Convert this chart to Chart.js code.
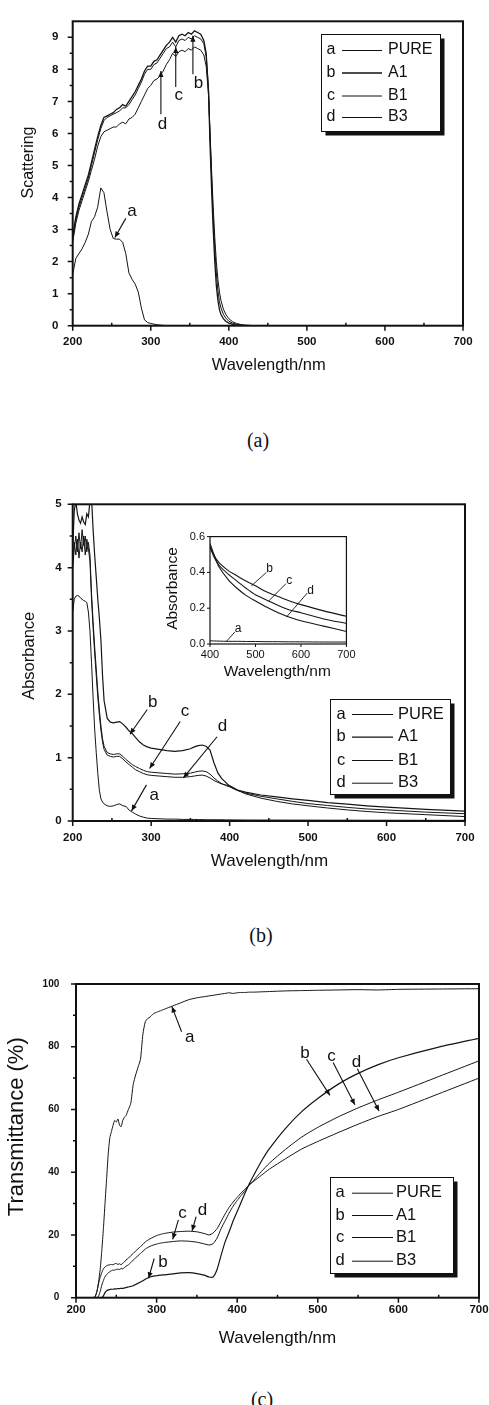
<!DOCTYPE html>
<html><head><meta charset="utf-8">
<script src="https://cdn.jsdelivr.net/npm/chart.js@4/dist/chart.umd.min.js"></script>
<style>
html,body{margin:0;padding:0;background:#fff;overflow:hidden;width:489px;height:1405px;position:relative}
canvas{position:absolute;left:0}
.cap{position:absolute;font-family:"Liberation Serif","DejaVu Serif",serif;font-size:20px;color:#111;transform:translate(-50%,-50%);white-space:nowrap}
</style></head><body>
<canvas id="cA" width="489" height="380" style="top:0px"></canvas>
<canvas id="cB" width="489" height="392" style="top:480px"></canvas>
<canvas id="cI" width="200" height="156" style="top:525px;left:160px"></canvas>
<canvas id="cC" width="500" height="390" style="top:960px"></canvas>
<div class="cap" style="left:258px;top:440px">(a)</div>
<div class="cap" style="left:261px;top:935px">(b)</div>
<div class="cap" style="left:262px;top:1399px">(c)</div>
<script>
// ---------- shared ----------
const seriesKeys = ['a','b','c','d'];
const seriesNames = ['PURE','A1','B1','B3'];
const wavelengthTicks = [200,300,400,500,600,700];

// ---------- (a) Scattering ----------
const wavelengthA = [200,204,208,212,216,220,224,228,232,236,240,244,248,252,256,260,264,268,272,276,280,284,288,292,296,300,304,308,312,316,320,324,328,332,336,340,344,348,352,356,360,364,368,371,374,376,378,380,382,384,386,388,390,393,396,400,405,410,415,420,430,450,500,600,700];
const scatPURE = [1.6,2.1,2.25,2.4,2.6,2.85,3.25,3.4,3.7,4.3,4.15,3.55,3.0,2.72,2.7,2.7,2.6,2.25,1.65,1.45,1.3,1.05,0.55,0.18,0.1,0.07,0.05,0.03,0.02,0.01,0.005,0,0,0,0,0,0,0,0,0,0,0,0,0,0,0,0,0,0,0,0,0,0,0,0,0,0,0,0,0,0,0,0,0,0];
const scatA1 = [2.8,3.4,3.8,4.1,4.4,4.7,5.1,5.5,5.9,6.25,6.5,6.55,6.6,6.65,6.75,6.8,6.9,6.85,7.0,7.15,7.3,7.5,7.7,7.95,8.1,8.1,8.25,8.3,8.45,8.6,8.75,8.85,9.0,8.85,9.05,9.1,9.05,9.15,9.1,9.2,9.15,9.1,8.9,8.5,7.3,5.6,4.2,3.0,2.0,1.25,0.8,0.5,0.35,0.22,0.14,0.08,0.04,0.02,0.01,0.005,0,0,0,0,0];
const scatB1 = [2.7,3.3,3.7,4.0,4.3,4.6,5.0,5.4,5.8,6.15,6.4,6.5,6.55,6.6,6.65,6.7,6.8,6.8,6.9,7.05,7.2,7.4,7.6,7.85,8.0,8.0,8.15,8.2,8.35,8.5,8.65,8.7,8.85,8.7,8.9,8.95,8.9,9.0,8.95,9.05,9.0,8.95,8.8,8.4,7.4,5.9,4.6,3.4,2.4,1.65,1.1,0.75,0.55,0.36,0.24,0.14,0.08,0.045,0.025,0.012,0.003,0,0,0,0];
const scatB3 = [2.6,3.2,3.6,3.9,4.2,4.5,4.85,5.2,5.6,5.9,6.05,6.1,6.15,6.2,6.2,6.3,6.35,6.3,6.45,6.5,6.6,6.8,7.0,7.2,7.4,7.5,7.65,7.7,7.8,7.95,8.15,8.3,8.5,8.4,8.55,8.6,8.55,8.65,8.6,8.7,8.65,8.6,8.45,8.1,7.2,6.0,4.8,3.7,2.75,2.0,1.45,1.05,0.78,0.52,0.36,0.22,0.12,0.07,0.04,0.02,0.005,0,0,0,0];
const scatTicks = [0,1,2,3,4,5,6,7,8,9];
const notesA = [
  {t:'a', tx:276, ty:3.56, x1:268, y1:3.35, x2:254, y2:2.75},
  {t:'d', tx:315, ty:6.3, x1:313, y1:6.6, x2:313, y2:7.95},
  {t:'c', tx:336, ty:7.2, x1:332, y1:7.45, x2:332, y2:8.7},
  {t:'b', tx:361, ty:7.57, x1:354, y1:7.85, x2:354, y2:9.05}
];

// ---------- (b) Absorbance ----------
const wavelengthB = [200,202,204,206,208,210,212,214,216,218,220,222,224,226,228,230,232,234,236,238,240,244,248,252,256,260,264,268,272,276,280,285,290,295,300,310,320,330,340,350,355,360,365,370,375,380,385,390,395,400,410,420,440,460,480,500,525,550,575,600,650,700];
const absPURE = [3.3,3.5,3.55,3.56,3.55,3.52,3.5,3.48,3.47,3.45,3.3,3.0,2.5,1.95,1.45,1.08,0.75,0.48,0.35,0.3,0.27,0.24,0.23,0.24,0.26,0.27,0.24,0.23,0.17,0.14,0.11,0.08,0.06,0.045,0.04,0.035,0.03,0.03,0.025,0.025,0.025,0.022,0.022,0.02,0.02,0.02,0.02,0.02,0.018,0.018,0.017,0.016,0.015,0.015,0.014,0.014,0.013,0.013,0.012,0.012,0.011,0.011];
const absA1 = [4.3,4.9,5.05,4.85,4.75,4.7,4.8,4.72,4.68,4.85,4.8,5.05,5.1,4.6,4.2,3.85,3.5,3.2,2.85,2.3,1.9,1.62,1.56,1.55,1.56,1.57,1.53,1.48,1.42,1.38,1.32,1.25,1.2,1.17,1.15,1.13,1.11,1.1,1.11,1.14,1.17,1.19,1.2,1.18,1.12,0.92,0.76,0.67,0.61,0.55,0.49,0.455,0.41,0.38,0.35,0.325,0.29,0.265,0.24,0.22,0.185,0.155];
const absB1 = [4.0,4.3,4.5,4.25,4.55,4.3,4.6,4.35,4.5,4.25,4.4,4.2,3.6,3.15,2.75,2.4,2.05,1.75,1.5,1.3,1.18,1.08,1.06,1.05,1.06,1.06,1.02,0.97,0.93,0.89,0.86,0.83,0.8,0.78,0.77,0.76,0.75,0.74,0.745,0.755,0.77,0.785,0.79,0.78,0.74,0.68,0.63,0.59,0.56,0.54,0.48,0.44,0.39,0.35,0.31,0.275,0.245,0.215,0.19,0.175,0.14,0.115];
const absB3 = [4.1,4.4,4.2,4.45,4.15,4.4,4.25,4.5,4.2,4.45,4.3,4.1,3.5,3.05,2.65,2.3,1.95,1.67,1.43,1.25,1.13,1.04,1.02,1.01,1.02,1.02,0.98,0.93,0.89,0.85,0.81,0.78,0.75,0.73,0.72,0.71,0.70,0.69,0.69,0.70,0.71,0.72,0.725,0.71,0.68,0.64,0.61,0.585,0.57,0.56,0.49,0.43,0.36,0.31,0.27,0.24,0.205,0.175,0.15,0.13,0.10,0.07];
const absTicks = [0,1,2,3,4,5];
const notesB = [
  {t:'b', tx:302, ty:1.88, x1:295, y1:1.76, x2:273, y2:1.37},
  {t:'c', tx:343, ty:1.73, x1:337, y1:1.57, x2:298, y2:0.83},
  {t:'d', tx:391, ty:1.5, x1:384, y1:1.33, x2:341, y2:0.68},
  {t:'a', tx:304, ty:0.41, x1:294, y1:0.57, x2:275, y2:0.16}
];
// inset (b)
const insetWavelengthTicks = [400,500,600,700];
const insetAbsTicks = [0,0.2,0.4,0.6];
const notesInset = [
  {t:'b', tx:531, ty:0.42, x1:524, y1:0.40, x2:491, y2:0.325},
  {t:'c', tx:574, ty:0.355, x1:567, y1:0.337, x2:529, y2:0.24},
  {t:'d', tx:621, ty:0.30, x1:614, y1:0.285, x2:568, y2:0.15},
  {t:'a', tx:462, ty:0.087, x1:455, y1:0.068, x2:436, y2:0.014}
];

// ---------- (c) Transmittance ----------
const wavelengthC = [220,222,224,226,228,230,232,234,236,238,240,242,244,246,248,250,252,254,256,258,260,262,265,268,271,274,277,280,283,286,289,292,296,300,305,310,320,330,340,350,360,365,370,375,380,385,390,395,400,405,410,415,420,430,440,460,480,500,525,550,575,600,650,700];
const transPURE = [0,0,0.5,2,5,9,15,22,30,38,46,51,53,55,56.5,56,57,55,54.5,56.5,57.5,58,60,62,68,71,73.5,76,84,88,89,89.5,90.5,91,91.5,92,93,94,95,95.6,96,96.2,96.4,96.6,96.8,97,97.2,97,97.2,97.3,97.3,97.4,97.4,97.5,97.6,97.8,97.9,98,98.1,98.2,98.1,98.3,98.4,98.5];
const transA1 = [0,0,0,0,0,0,0,0.6,1.6,2.2,2.5,2.6,2.7,2.7,2.8,2.8,2.9,2.9,3.0,3.0,3.1,3.2,3.4,3.6,3.8,4.2,4.6,5.0,5.4,5.9,6.3,6.6,6.9,7.0,7.2,7.3,7.6,7.9,8.0,7.7,7.1,6.6,6.6,9.0,13.5,17.8,21.0,24.5,27.5,30.5,33.5,36.3,38.8,43.5,47.5,54,59.3,63.5,68,71.5,74.3,76.5,79.9,82.7];
const transB1 = [0,0,0,0,0.5,2,4,5.5,6.7,7.4,7.9,8.3,8.6,8.8,8.8,9.0,9.1,9.0,9.3,9.2,9.6,10.0,10.5,11.2,12.0,12.7,13.4,14.1,14.8,15.5,16.0,16.4,16.8,17.1,17.4,17.6,17.9,18.1,18.0,17.7,17.1,16.8,17.2,19.0,22.0,24.5,27.0,29.2,31.0,32.6,34.2,35.9,37.3,40.2,42.9,47.3,51.2,54.3,57.6,60.5,63.1,65.5,70.5,75.5];
const transB3 = [0,0,0.5,2,4.5,6.5,8,9.2,9.8,10.2,10.4,10.5,10.6,10.5,10.8,10.9,10.6,10.8,10.5,11.0,11.4,12.0,12.6,13.4,14.1,14.9,15.6,16.3,17.0,17.8,18.3,18.8,19.3,19.8,20.2,20.5,20.9,21.1,21.2,21.0,20.4,20.0,20.6,22.0,24.3,26.7,28.8,30.5,32.0,33.4,34.7,36.0,37.0,39.0,41.0,44.3,47.4,49.8,52.6,55.3,57.8,60.0,65.0,70.0];
const transTicks = [0,20,40,60,80,100];
const notesC = [
  {t:'a', tx:341, ty:83, x1:331, y1:84.8, x2:319, y2:92.8},
  {t:'b', tx:484, ty:78, x1:486, y1:76, x2:515, y2:64.5},
  {t:'c', tx:517, ty:77, x1:519, y1:75, x2:546, y2:61.5},
  {t:'d', tx:548, ty:75, x1:549, y1:73, x2:576, y2:59.5},
  {t:'c', tx:332, ty:27, x1:327, y1:24.8, x2:320, y2:18.6},
  {t:'d', tx:357, ty:27.7, x1:349, y1:25.8, x2:344, y2:21.3},
  {t:'b', tx:308, ty:11.3, x1:297, y1:12.5, x2:290, y2:6.2}
];

// ---------- drawing ----------
const FAM = '"Liberation Sans", Arial, Helvetica, sans-serif';
Chart.defaults.font.family = FAM;
Chart.defaults.color = '#111';

function pts(xs, ys){ return xs.map((x,i)=>({x:x, y:ys[i]})); }

const decor = {
  id:'decor',
  afterDraw(chart, args, o){
    if(!o || !o.frameW) return;
    const ctx = chart.ctx, ca = chart.chartArea, xs = chart.scales.x, ys = chart.scales.y;
    ctx.save();
    ctx.strokeStyle = '#111'; ctx.fillStyle = '#111';
    ctx.lineWidth = o.frameW;
    ctx.strokeRect(ca.left, ca.top, ca.right-ca.left, ca.bottom-ca.top);
    // ticks
    ctx.lineWidth = o.tickW;
    const xt = xs.ticks.map(t=>t.value), yt = ys.ticks.map(t=>t.value);
    ctx.beginPath();
    xt.forEach(v=>{const p=xs.getPixelForValue(v); ctx.moveTo(p,ca.bottom); ctx.lineTo(p,ca.bottom+o.major);});
    yt.forEach(v=>{const p=ys.getPixelForValue(v); ctx.moveTo(ca.left,p); ctx.lineTo(ca.left-o.major,p);});
    if(o.minor){
      for(let i=0;i<xt.length-1;i++){const p=xs.getPixelForValue((xt[i]+xt[i+1])/2); ctx.moveTo(p,ca.bottom); ctx.lineTo(p,ca.bottom-o.minor);}
      for(let i=0;i<yt.length-1;i++){const p=ys.getPixelForValue((yt[i]+yt[i+1])/2); ctx.moveTo(ca.left,p); ctx.lineTo(ca.left-o.minor,p);}
    }
    ctx.stroke();
    // axis titles
    ctx.textAlign='center'; ctx.textBaseline='middle';
    ctx.font = o.xTitleSize+'px '+FAM;
    ctx.fillText(o.xTitle, o.xTitleX, o.xTitleY);
    ctx.save();
    ctx.translate(o.yTitleX, o.yTitleY); ctx.rotate(-Math.PI/2);
    ctx.font = o.yTitleSize+'px '+FAM;
    ctx.fillText(o.yTitle, 0, 0);
    ctx.restore();
    // legend
    if(o.legend){
      const L = o.legend;
      ctx.fillStyle='#111';
      ctx.fillRect(L.x+L.sh, L.y+L.sh, L.w, L.h);
      ctx.fillStyle='#fff';
      ctx.fillRect(L.x, L.y, L.w, L.h);
      ctx.lineWidth=1; ctx.strokeStyle='#111';
      ctx.strokeRect(L.x+0.5, L.y+0.5, L.w, L.h);
      ctx.fillStyle='#111';
      ctx.font = L.size+'px '+FAM;
      chart.data.datasets.forEach((ds,i)=>{
        const y = L.rows[i];
        ctx.textAlign='center'; ctx.fillText(seriesKeys[i], L.letterX, y);
        ctx.lineWidth = ds.borderWidth;
        ctx.beginPath(); ctx.moveTo(L.l1, y+0.5); ctx.lineTo(L.l2, y+0.5); ctx.stroke();
        ctx.textAlign='left'; ctx.fillText(ds.label, L.textX, y);
      });
    }
    // annotations
    if(o.notes){
      ctx.font = o.noteSize+'px '+FAM;
      ctx.textAlign='center'; ctx.textBaseline='middle';
      ctx.lineWidth = o.noteW;
      o.notes.forEach(n=>{
        const tx=xs.getPixelForValue(n.tx), ty=ys.getPixelForValue(n.ty);
        ctx.fillText(n.t, tx, ty);
        const x1=xs.getPixelForValue(n.x1), y1=ys.getPixelForValue(n.y1);
        const x2=xs.getPixelForValue(n.x2), y2=ys.getPixelForValue(n.y2);
        ctx.beginPath(); ctx.moveTo(x1,y1); ctx.lineTo(x2,y2); ctx.stroke();
        if(o.heads){
          const ang=Math.atan2(y2-y1,x2-x1), hl=6, hw=2.6;
          ctx.beginPath();
          ctx.moveTo(x2,y2);
          ctx.lineTo(x2-hl*Math.cos(ang)+hw*Math.sin(ang), y2-hl*Math.sin(ang)-hw*Math.cos(ang));
          ctx.lineTo(x2-hl*Math.cos(ang)-hw*Math.sin(ang), y2-hl*Math.sin(ang)+hw*Math.cos(ang));
          ctx.closePath(); ctx.fill();
        }
      });
    }
    ctx.restore();
  }
};
Chart.register(decor);

function build(id, s){
  const cv = document.getElementById(id);
  const W = cv.width, H = cv.height;
  return new Chart(cv, {
    type:'line',
    data:{datasets: s.series.map((ys,i)=>({
      label: seriesNames[i], data: pts(s.xs, ys), borderColor:'#151515',
      borderWidth: s.widths[i], pointRadius:0, tension: s.tension, fill:false
    }))},
    options:{
      responsive:false, animation:false, events:[],
      layout:{padding:{left:0, top:s.top, right:W - s.right, bottom:0}},
      plugins:{legend:{display:false}, tooltip:{enabled:false}, decor:s.decor},
      scales:{
        x:{type:'linear', min:s.xMin, max:s.xMax,
           afterBuildTicks: sc=>{ sc.ticks = s.xTicks.map(v=>({value:v})); },
           afterFit: sc=>{ sc.height = H - s.bottom; },
           grid:{display:false, drawTicks:false}, border:{display:false},
           ticks:{padding:s.xPad, font:s.xFont, color:'#111', maxRotation:0, autoSkip:false}},
        y:{type:'linear', min:s.yMin, max:s.yMax,
           afterBuildTicks: sc=>{ sc.ticks = s.yTicks.map(v=>({value:v})); },
           afterFit: sc=>{ sc.width = s.left; },
           grid:{display:false, drawTicks:false}, border:{display:false},
           ticks:{padding:s.yPad, font:s.yFont, color:'#111', autoSkip:false,
                  callback: s.yFmt || (v=>String(v))}}
      }
    }
  });
}

// (a)
build('cA', {
  xs:wavelengthA, series:[scatPURE,scatA1,scatB1,scatB3], widths:[1,1.3,1,1], tension:0,
  xMin:200, xMax:700, xTicks:wavelengthTicks, yMin:0, yMax:9.5, yTicks:scatTicks,
  left:72.7, right:463, top:12, bottom:325.7,
  xPad:9.7, yPad:14.4, xFont:{size:11.5, weight:'bold'}, yFont:{size:11.5, weight:'bold'},
  decor:{frameW:2, tickW:1.5, major:5, minor:3,
    xTitle:'Wavelength/nm', xTitleX:268.7, xTitleY:365, xTitleSize:16.5,
    yTitle:'Scattering', yTitleX:28.5, yTitleY:162.5, yTitleSize:16,
    legend:{x:321, y:34, w:119, h:97, sh:4.5, letterX:331, l1:342, l2:382, textX:388, rows:[50,72.5,95.5,117], size:16},
    notes:notesA, noteSize:17, noteW:1.1, heads:true}
});

// (b)
build('cB', {
  xs:wavelengthB, series:[absPURE,absA1,absB1,absB3], widths:[1,1.2,1,1], tension:0,
  xMin:200, xMax:700, xTicks:wavelengthTicks, yMin:0, yMax:5, yTicks:absTicks,
  left:72.7, right:465, top:24.3, bottom:341,
  xPad:10, yPad:11, xFont:{size:11.5, weight:'bold'}, yFont:{size:11.5, weight:'bold'},
  decor:{frameW:2, tickW:1.5, major:5, minor:3,
    xTitle:'Wavelength/nm', xTitleX:269.5, xTitleY:381.7, xTitleSize:17,
    yTitle:'Absorbance', yTitleX:29, yTitleY:175.8, yTitleSize:16.5,
    legend:{x:330, y:219, w:120, h:95, sh:4.5, letterX:341, l1:352, l2:393, textX:398, rows:[234,256.7,280,302.7], size:16.5},
    notes:notesB, noteSize:17, noteW:1.1, heads:true}
});

// inset of (b)
build('cI', {
  xs:wavelengthB, series:[absPURE,absA1,absB1,absB3], widths:[1,1.1,1.1,1.1], tension:0.3,
  xMin:400, xMax:700, xTicks:insetWavelengthTicks, yMin:0, yMax:0.6, yTicks:insetAbsTicks,
  left:50, right:187.7, top:11, bottom:119,
  xPad:4.4, yPad:5, xFont:{size:11}, yFont:{size:11}, yFmt:v=>v.toFixed(1),
  decor:{frameW:1.2, tickW:1, major:3, minor:0,
    xTitle:'Wavelength/nm', xTitleX:117.3, xTitleY:146.7, xTitleSize:15.5,
    yTitle:'Absorbance', yTitleX:13, yTitleY:63.5, yTitleSize:15.5,
    notes:notesInset, noteSize:12, noteW:0.9, heads:false}
});

// (c)
build('cC', {
  xs:wavelengthC, series:[transPURE,transA1,transB1,transB3], widths:[1,1.2,1,1], tension:0.2,
  xMin:200, xMax:700, xTicks:wavelengthTicks, yMin:0, yMax:100, yTicks:transTicks,
  left:76, right:479, top:24, bottom:337.7,
  xPad:5.4, yPad:16.7, xFont:{size:11.5, weight:'bold'}, yFont:{size:10, weight:'bold'},
  decor:{frameW:2, tickW:1.5, major:5, minor:3,
    xTitle:'Wavelength/nm', xTitleX:277.5, xTitleY:378, xTitleSize:17,
    yTitle:'Transmittance (%)', yTitleX:16.5, yTitleY:166.7, yTitleSize:22,
    legend:{x:330, y:217, w:123, h:96, sh:4.5, letterX:340, l1:352, l2:393, textX:396, rows:[232.7,255,277,300.7], size:16.5},
    notes:notesC, noteSize:17, noteW:1.1, heads:true}
});
</script>
</body></html>
